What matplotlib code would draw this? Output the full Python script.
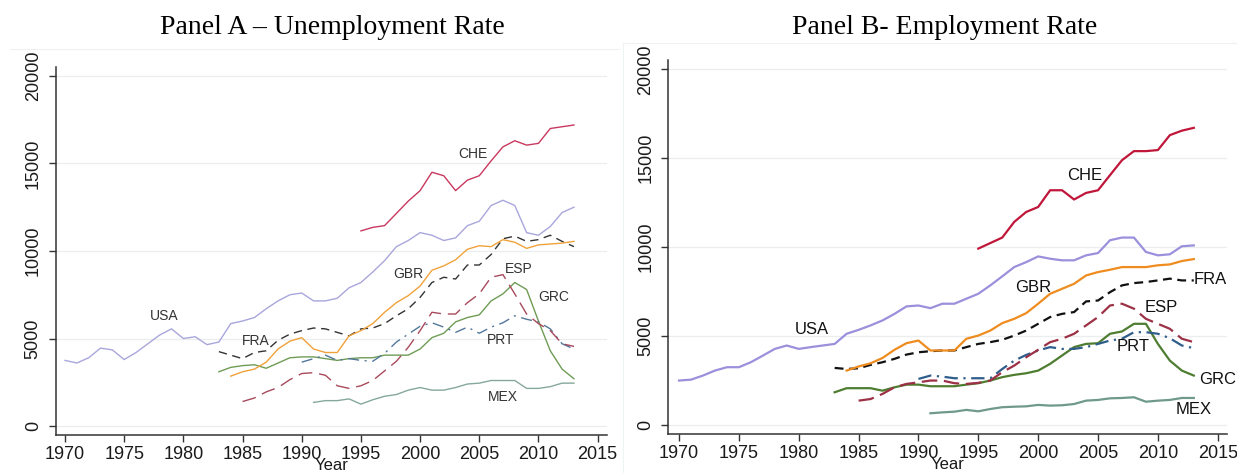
import numpy as np
import matplotlib
matplotlib.use("Agg")
import matplotlib.pyplot as plt
from matplotlib.lines import Line2D

plt.rcParams["font.family"] = ["Liberation Sans", "DejaVu Sans"]

# ---- Panel A: unemployment ----
years_a_usa = list(range(1970, 2014))
a_usa = [3750, 3600, 3900, 4450, 4350, 3800, 4200, 4700, 5200, 5550,
         5000, 5100, 4650, 4800, 5850, 6000, 6200, 6700, 7150, 7500,
         7600, 7150, 7150, 7300, 7900, 8200, 8800, 9450, 10250, 10600,
         11050, 10900, 10600, 10750, 11450, 11700, 12600, 12900, 12600, 11050,
         10900, 11400, 12200, 12500]
years_a_che = list(range(1995, 2014))
a_che = [11150, 11350, 11450, 12150, 12850, 13450, 14500, 14300, 13450, 14050,
         14300, 15150, 15950, 16300, 16050, 16150, 17000, 17100, 17200]
years_a_gbr = list(range(1984, 2014))
a_gbr = [2850, 3100, 3250, 3650, 4400, 4850, 5050, 4400, 4200, 4200,
         5150, 5450, 5850, 6500, 7050, 7450, 8000, 8900, 9150, 9500,
         10100, 10300, 10250, 10650, 10500, 10150, 10350, 10400, 10450, 10550]
years_a_fra = list(range(1983, 2014))
a_fra = [4250, 4050, 3850, 4200, 4300, 4900, 5250, 5450, 5600, 5550,
         5350, 5150, 5550, 5600, 5850, 6300, 6700, 7350, 8200, 8500,
         8400, 9200, 9200, 9800, 10700, 10850, 10550, 10650, 10900, 10550, 10250]
years_a_esp = list(range(1985, 2014))
a_esp = [1400, 1600, 1950, 2200, 2650, 3000, 3050, 2900, 2300, 2150,
         2300, 2600, 3150, 3700, 4500, 5450, 6500, 6400, 6400, 7050,
         7550, 8500, 8650, 7550, 6400, 5850, 5450, 4700, 4550]
years_a_grc = list(range(1983, 2014))
a_grc = [3100, 3350, 3450, 3500, 3300, 3600, 3900, 3950, 3950, 3850,
         3750, 3850, 3900, 3900, 4050, 4050, 4050, 4400, 5050, 5300,
         5950, 6200, 6350, 7150, 7550, 8200, 7800, 6000, 4300, 3250, 2700]
years_a_prt = list(range(1990, 2014))
a_prt = [3650, 3850, 4050, 3750, 3850, 3750, 3700, 4150, 4800, 5250,
         5700, 5900, 5650, 5350, 5650, 5300, 5650, 5900, 6300, 6100,
         5950, 5550, 4700, 4400]
years_a_mex = list(range(1991, 2014))
a_mex = [1350, 1450, 1450, 1550, 1250, 1500, 1700, 1800, 2050, 2200,
         2050, 2050, 2200, 2400, 2450, 2600, 2600, 2600, 2150, 2150,
         2250, 2450, 2450]

# ---- Panel B: employment ----
years_b_usa = list(range(1970, 2014))
b_usa = [2500, 2550, 2780, 3060, 3250, 3250, 3530, 3900, 4280, 4470,
         4280, 4380, 4470, 4560, 5130, 5350, 5600, 5880, 6250, 6670,
         6720, 6570, 6820, 6820, 7100, 7380, 7850, 8360, 8880, 9160,
         9480, 9350, 9260, 9260, 9540, 9670, 10390, 10540, 10540, 9730,
         9540, 9600, 10050, 10100]
years_b_che = list(range(1995, 2014))
b_che = [9920, 10230, 10540, 11420, 11980, 12260, 13200, 13200, 12680, 13050,
         13200, 14050, 14890, 15400, 15400, 15460, 16300, 16550, 16710]
years_b_gbr = list(range(1984, 2014))
b_gbr = [3060, 3290, 3470, 3770, 4230, 4600, 4750, 4190, 4190, 4190,
         4850, 5030, 5310, 5730, 5970, 6290, 6820, 7380, 7660, 7940,
         8410, 8600, 8730, 8880, 8880, 8880, 8980, 9030, 9220, 9330]
years_b_fra = list(range(1983, 2014))
b_fra = [3210, 3150, 3190, 3380, 3530, 3720, 3960, 4090, 4150, 4190,
         4190, 4380, 4560, 4660, 4790, 5030, 5310, 5690, 6070, 6250,
         6350, 6950, 7000, 7470, 7850, 7980, 8040, 8130, 8230, 8130, 8130]
years_b_esp = list(range(1985, 2014))
b_esp = [1370, 1460, 1750, 2120, 2310, 2400, 2500, 2500, 2350, 2310,
         2370, 2500, 2970, 3340, 3810, 4230, 4660, 4850, 5130, 5600,
         6070, 6720, 6820, 6540, 5970, 5690, 5410, 4850, 4660]
years_b_grc = list(range(1983, 2014))
b_grc = [1840, 2070, 2070, 2070, 1930, 2120, 2270, 2270, 2180, 2180,
         2180, 2270, 2350, 2500, 2690, 2820, 2910, 3060, 3440, 3910,
         4380, 4560, 4600, 5130, 5260, 5690, 5690, 4560, 3620, 3060, 2780]
years_b_prt = list(range(1990, 2014))
b_prt = [2590, 2780, 2720, 2630, 2630, 2630, 2630, 3150, 3620, 3940,
         4190, 4380, 4280, 4280, 4380, 4560, 4750, 4850, 5220, 5220,
         5130, 4880, 4470, 4320]
years_b_mex = list(range(1991, 2014))
b_mex = [660, 710, 750, 850, 770, 900, 1000, 1030, 1050, 1130,
         1090, 1110, 1180, 1370, 1410, 1500, 1520, 1560, 1310, 1370,
         1410, 1520, 1520]

xticks = [1970, 1975, 1980, 1985, 1990, 1995, 2000, 2005, 2010, 2015]
yticks = [0, 5000, 10000, 15000, 20000]

fig = plt.figure(figsize=(12.37, 4.73), dpi=100)

# faint frame lines around the two graph regions
fig.add_artist(Line2D([10 / 1237, 619 / 1237], [1 - 49 / 473] * 2, color="#eef1f1", lw=0.8))
fig.add_artist(Line2D([623 / 1237, 1237 / 1237], [1 - 43 / 473] * 2, color="#eef1f1", lw=0.8))
fig.add_artist(Line2D([623 / 1237] * 2, [0, 1 - 43 / 473], color="#eef3f3", lw=0.8))


def style_axes(ax, xlim, ylim):
    ax.set_xlim(*xlim)
    ax.set_ylim(*ylim)
    ax.set_xticks(xticks)
    ax.set_yticks(yticks)
    ax.set_yticklabels([str(v) for v in yticks], rotation=90, va="center")
    for side in ("top", "right"):
        ax.spines[side].set_visible(False)
    for side in ("left", "bottom"):
        ax.spines[side].set_color("#333333")
        ax.spines[side].set_linewidth(1.1)
    ax.tick_params(axis="both", direction="out", length=5, width=1.0,
                   color="#333333", labelsize=13, labelcolor="#1a1a1a")
    ax.tick_params(axis="x", pad=3)
    ax.tick_params(axis="y", pad=5)
    ax.grid(axis="y", color="#eaeeee", lw=0.9)
    ax.set_axisbelow(True)
    ax.set_xlabel("Year", fontsize=12, labelpad=-4, color="#1a1a1a")


# Panel A
ax1 = fig.add_axes([0.045, 0.0803, 0.4454, 0.7787])
style_axes(ax1, (1969.21, 2015.76), (-514, 20531))
lw_a = 1.0
ax1.plot(years_a_mex, a_mex, color="#86a89b", lw=lw_a)
ax1.plot(years_a_grc, a_grc, color="#6f9c55", lw=lw_a)
ax1.plot(years_a_prt, a_prt, color="#52779a", lw=lw_a, dashes=(8, 4, 1.5, 4))
ax1.plot(years_a_esp, a_esp, color="#a8495c", lw=lw_a, dashes=(10, 5))
ax1.plot(years_a_fra, a_fra, color="#333333", lw=lw_a, dashes=(6, 4))
ax1.plot(years_a_gbr, a_gbr, color="#f0a23a", lw=lw_a)
ax1.plot(years_a_usa, a_usa, color="#a9a6dc", lw=lw_a)
ax1.plot(years_a_che, a_che, color="#c9385f", lw=lw_a)

labels_a = [("CHE", 2004.5, 15520), ("USA", 1978.4, 6310), ("FRA", 1986.1, 4850),
            ("GBR", 1999.0, 8690), ("ESP", 2008.3, 8980), ("GRC", 2011.3, 7360),
            ("PRT", 2006.8, 4940), ("MEX", 2007.0, 1650)]
for name, x, y in labels_a:
    ax1.text(x, y, name, fontsize=10, color="#333333", ha="center", va="center")

fig.text(332 / 1237, 1 - 28 / 473, "Panel A – Unemployment Rate",
         family=["Liberation Serif", "DejaVu Serif"], fontsize=20,
         ha="center", va="center")

# Panel B
ax2 = fig.add_axes([0.5403, 0.0818, 0.4514, 0.7913])
style_axes(ax2, (1969.11, 2015.75), (-523, 20523))
lw_b = 1.6
ax2.plot(years_b_mex, b_mex, color="#6f998b", lw=lw_b)
ax2.plot(years_b_grc, b_grc, color="#4e7d30", lw=lw_b)
ax2.plot(years_b_prt, b_prt, color="#2f5d8c", lw=lw_b, dashes=(6, 2.5, 1, 2.5))
ax2.plot(years_b_esp, b_esp, color="#9c3146", lw=lw_b, dashes=(7, 3))
ax2.plot(years_b_fra, b_fra, color="#111111", lw=lw_b, dashes=(4, 2.5))
ax2.plot(years_b_gbr, b_gbr, color="#ef8c1f", lw=lw_b)
ax2.plot(years_b_usa, b_usa, color="#9a90dc", lw=lw_b)
ax2.plot(years_b_che, b_che, color="#c0163a", lw=lw_b)

labels_b = [("CHE", 2003.9, 14050, "center"), ("USA", 1981.1, 5350, "center"),
            ("GBR", 1999.6, 7720, "center"), ("FRA", 2013.0, 8190, "left"),
            ("ESP", 2010.3, 6630, "center"), ("PRT", 2007.9, 4430, "center"),
            ("GRC", 2015.0, 2550, "center"), ("MEX", 2013.0, 900, "center")]
for name, x, y, ha in labels_b:
    ax2.text(x, y, name, fontsize=12, color="#111111", ha=ha, va="center",
             clip_on=False)

fig.text(945 / 1237, 1 - 28 / 473, "Panel B- Employment Rate",
         family=["Liberation Serif", "DejaVu Serif"], fontsize=20,
         ha="center", va="center")

fig.savefig("out.png", dpi=100)
